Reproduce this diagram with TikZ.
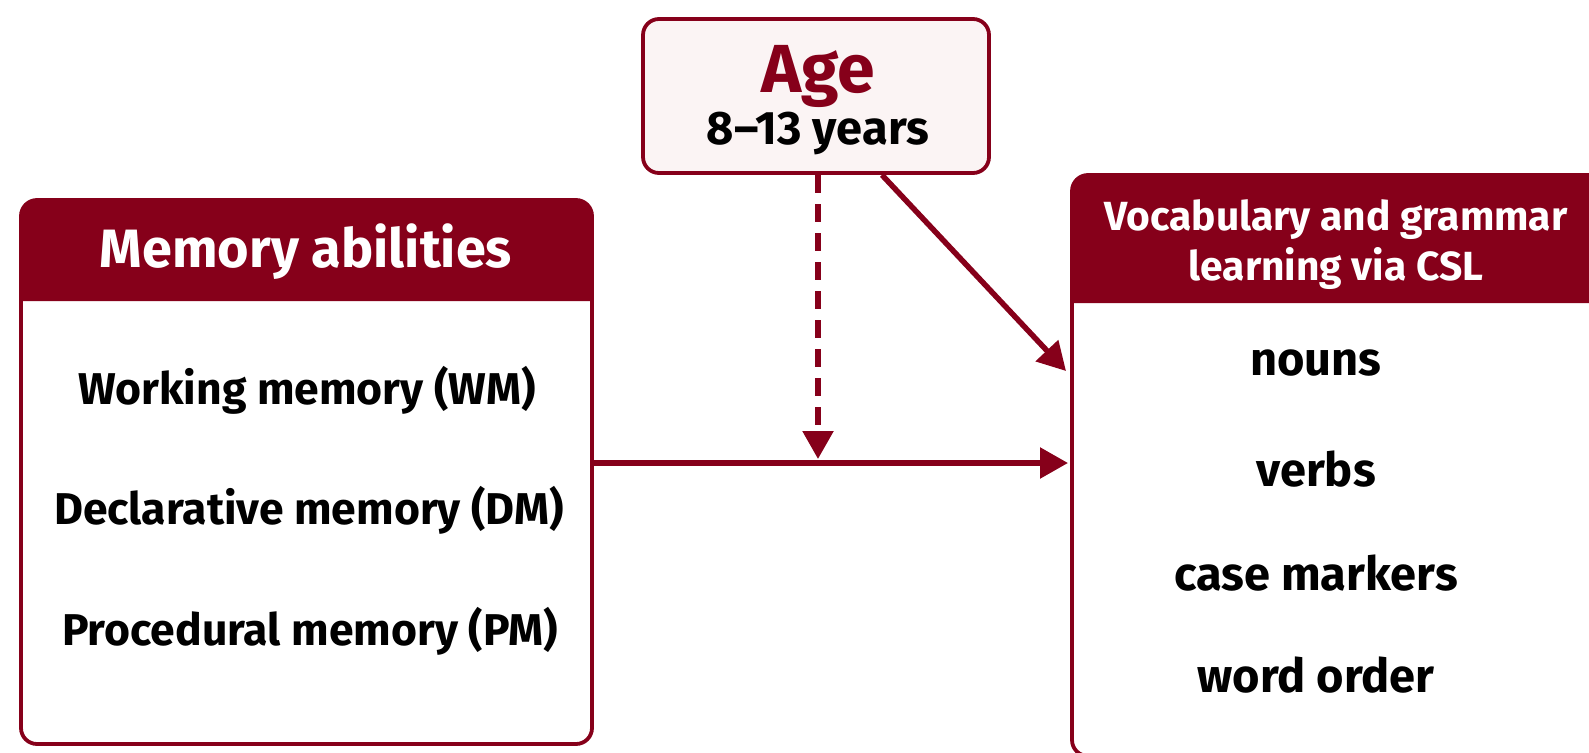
\documentclass[tikz,border=0pt]{standalone}
\usepackage{fontspec}
\setmainfont{Fira Sans}
\usetikzlibrary{arrows.meta}
\definecolor{dred}{HTML}{86001A}
\definecolor{agefill}{HTML}{FBF4F4}
\tikzset{
  boxline/.style={draw=dred, line width=3.8pt, rounded corners=16pt},
  item/.style={font=\fontsize{44.5}{52}\selectfont\bfseries, text=black, anchor=center, inner sep=0pt},
  ritem/.style={item, font=\fontsize{47}{54}\selectfont\bfseries},
  headtxt/.style={font=\fontsize{54}{60}\selectfont\bfseries, text=white, align=center, inner sep=0pt},
  conn/.style={draw=dred, line width=5.5pt, -{Triangle[length=28pt,width=30pt]}},
}
\begin{document}
\begin{tikzpicture}[x=1pt,y=-1pt]
\useasboundingbox (0,0) rectangle (1589,752);
\clip (0,0) rectangle (1589,752);
\fill[white] (0,0) rectangle (1589,752);

% Memory box
\coordinate (memNW) at (21,200);
\coordinate (memSE) at (592,744);
\fill[dred] (21,301) [rounded corners=16pt] -- (21,200) -- (592,200) [sharp corners] -- (592,301) -- cycle;
\draw[boxline] (memNW) rectangle (memSE);
\node[headtxt] (memhead) at (306,252) {Memory abilities};
\node[item] (wm) at (307,390) {Working memory (WM)};
\node[item] (dm) at (309,510) {Declarative memory (DM)};
\node[item] (pm) at (310,631) {Procedural memory (PM)};
\coordinate (memE) at (592,463);

% Right box
\fill[dred] (1072,303) [rounded corners=16pt] -- (1072,175) -- (1610,175) [sharp corners] -- (1610,303) -- cycle;
\draw[boxline] (1072,175) rectangle (1610,756);
\node[headtxt, font=\fontsize{40.7}{50}\selectfont\bfseries] (voc) at (1336,245) {Vocabulary and grammar\\learning via CSL};
\node[ritem] (nouns) at (1316,363) {nouns};
\node[ritem] (verbs) at (1316,469) {verbs};
\node[ritem] (case) at (1316,573) {case markers};
\node[ritem] (word) at (1316,675) {word order};
\coordinate (vocW) at (1068,463);
\coordinate (vocWup) at (1066,371);

% Age box
\draw[boxline, fill=agefill] (643,19) rectangle (989,173);
\node[inner sep=0pt, font=\fontsize{68}{74}\selectfont\bfseries, text=dred] (age) at (818,76) {Age};
\node[item, font=\fontsize{47}{54}\selectfont\bfseries] (years) at (818,134) {8–13 years};
\coordinate (ageS) at (818,175);
\coordinate (ageSE) at (882,175);
\coordinate (midtip) at (818,459);

% Connectors
\draw[conn] (memE) -- (vocW);
\draw[conn, dash pattern=on 18pt off 11pt] (ageS) -- (midtip);
\draw[conn] (ageSE) -- (vocWup);
\end{tikzpicture}
\end{document}
